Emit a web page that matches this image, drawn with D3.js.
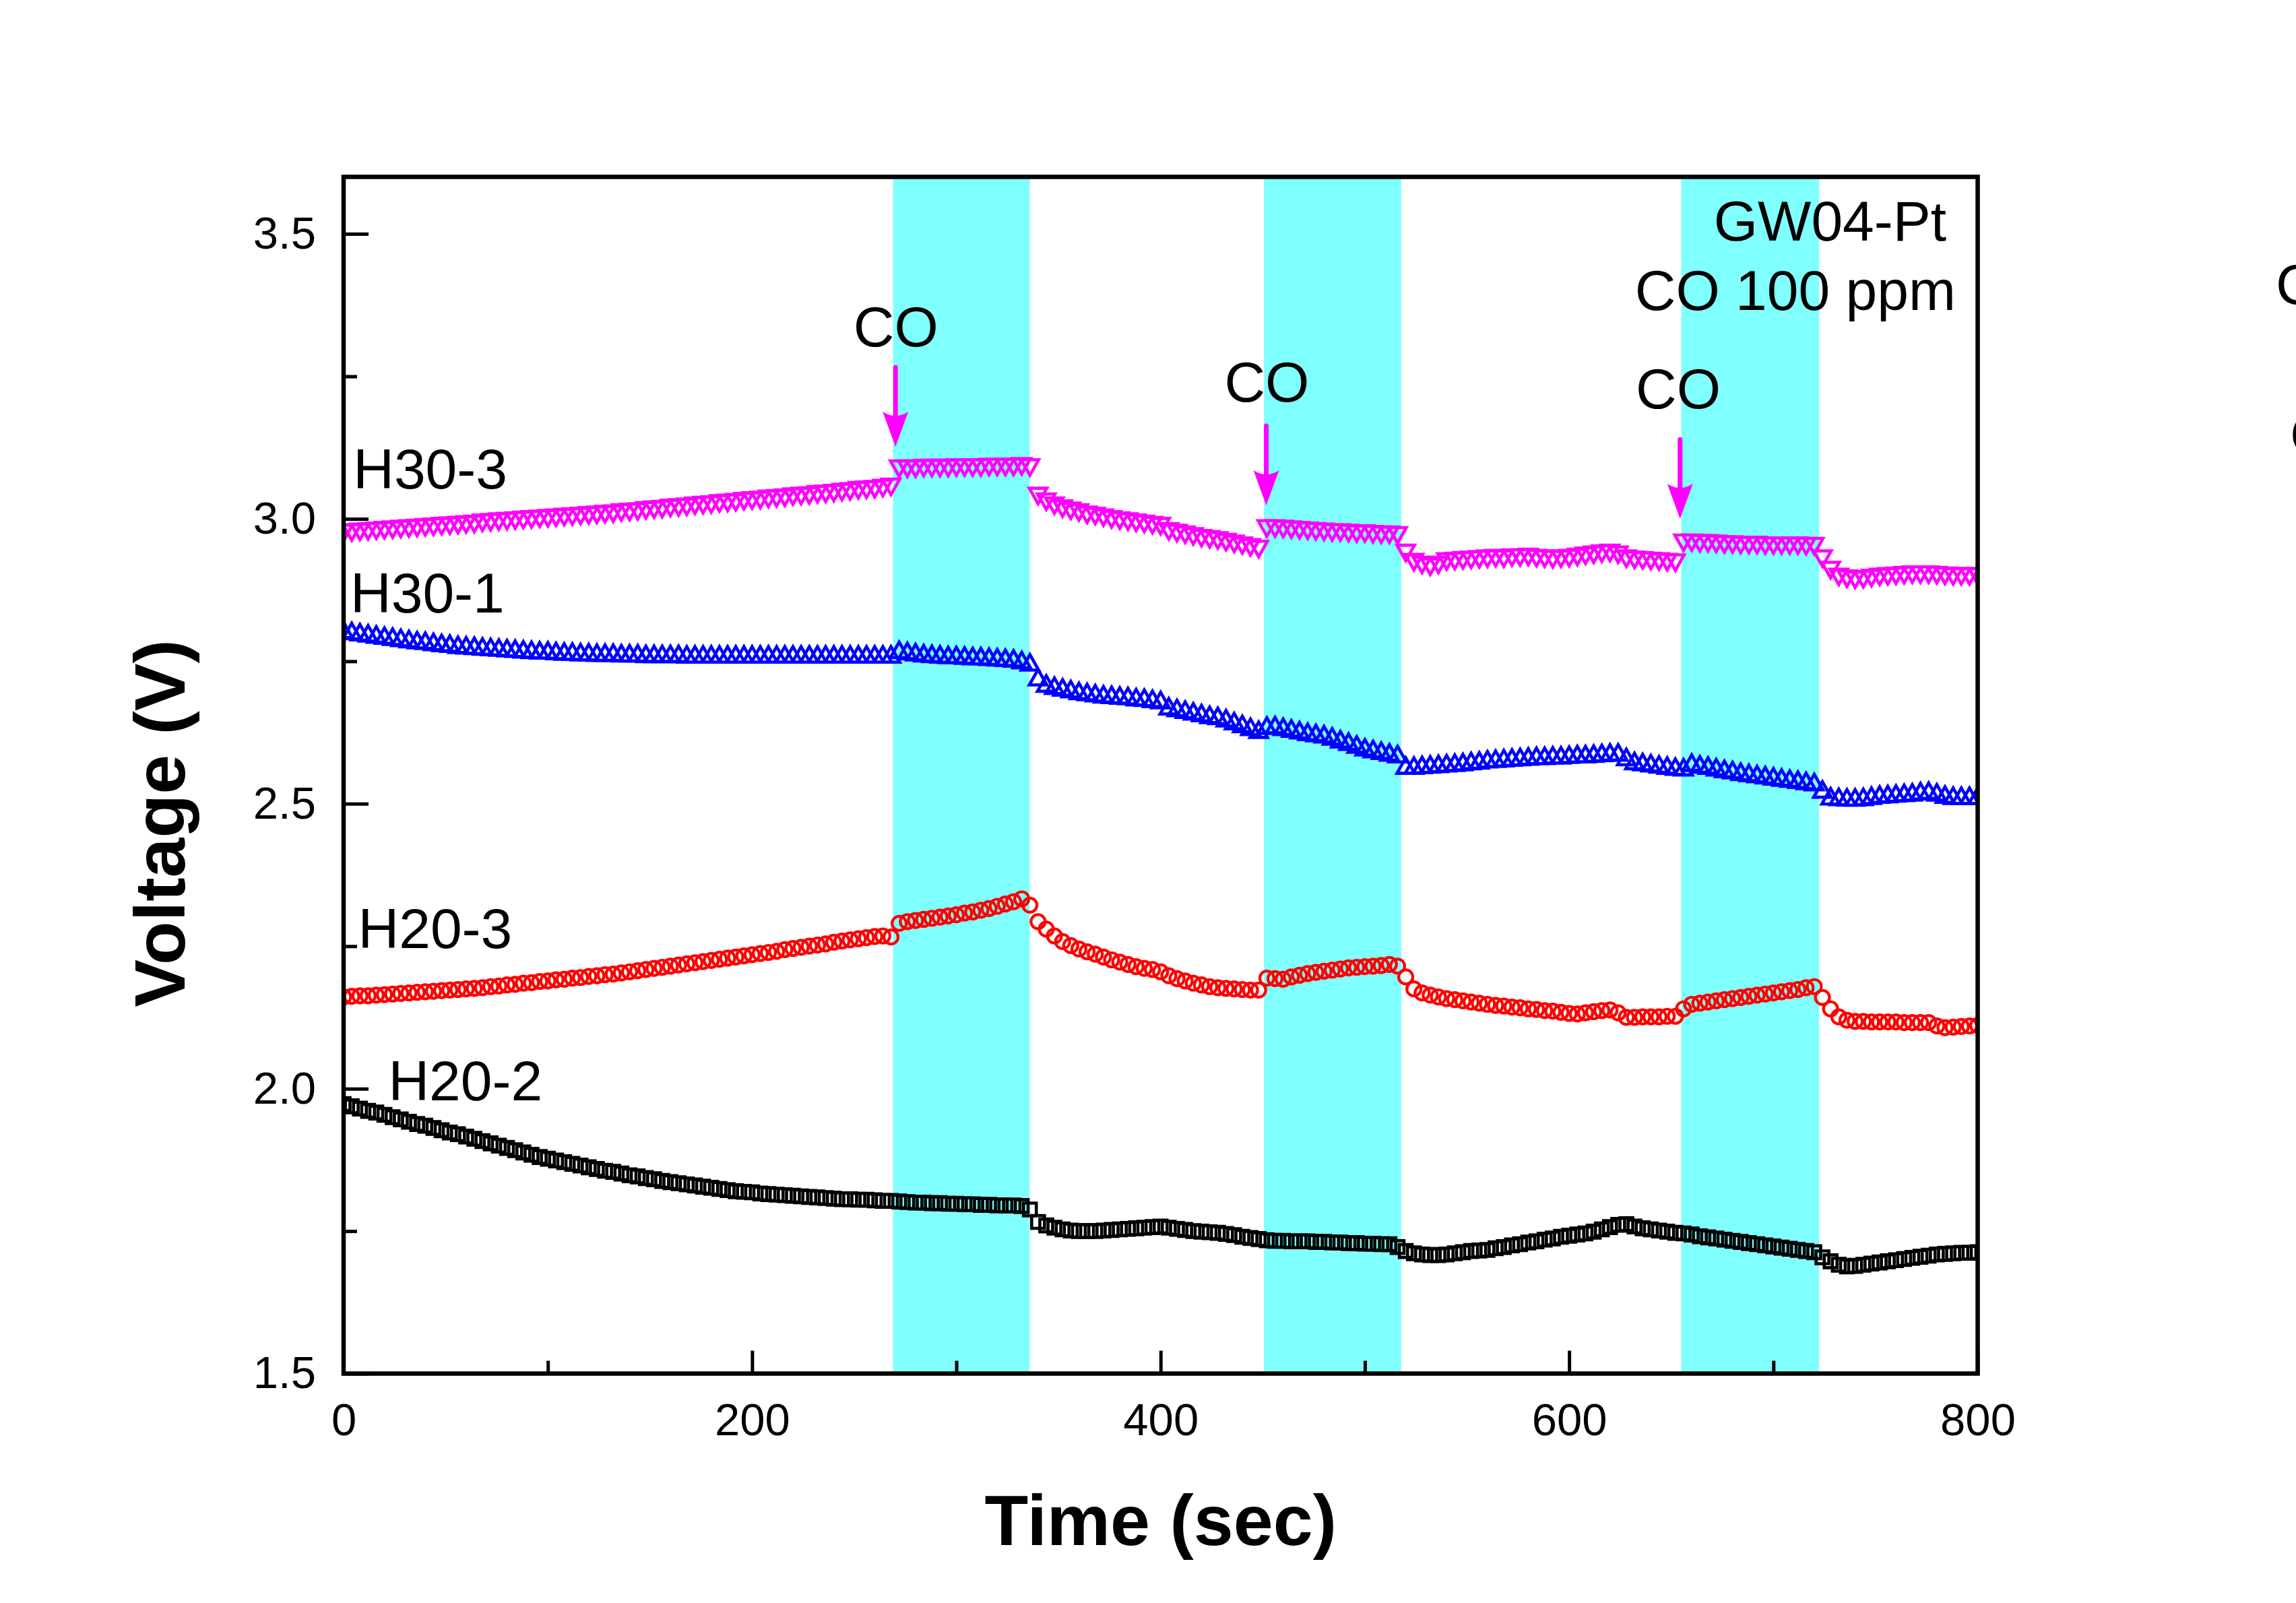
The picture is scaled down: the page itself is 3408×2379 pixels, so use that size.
<!DOCTYPE html>
<html><head><meta charset="utf-8">
<script src="https://cdn.jsdelivr.net/npm/d3@7"></script>
<style>html,body{margin:0;padding:0;background:#fff;} svg{display:block;}</style>
</head><body>
<svg id="c" width="3408" height="2379"></svg>
<script>
// ---------- DATA ----------
const times = [
0,4,8,12,16,20,24,28,32,36,40,44,48,52,56,60,64,68,72,76,80,84,88,92,96,
100,104,108,112,116,120,124,128,132,136,140,144,148,152,156,160,164,168,172,176,180,184,188,192,196,
200,204,208,212,216,220,224,228,232,236,240,244,248,252,256,260,264,268,272,276,280,284,288,292,296,
300,304,308,312,316,320,324,328,332,336,340,344,348,352,356,360,364,368,372,376,380,384,388,392,396,
400,404,408,412,416,420,424,428,432,436,440,444,448,452,456,460,464,468,472,476,480,484,488,492,496,
500,504,508,512,516,520,524,528,532,536,540,544,548,552,556,560,564,568,572,576,580,584,588,592,596,
600,604,608,612,616,620,624,628,632,636,640,644,648,652,656,660,664,668,672,676,680,684,688,692,696,
700,704,708,712,716,720,724,728,732,736,740,744,748,752,756,760,764,768,772,776,780,784,788,792,796,
800];

const seriesNames = ["H30-3", "H30-1", "H20-3", "H20-2"];

const vH30_3 = [
2.975,2.976,2.977,2.978,2.979,2.980,2.981,2.982,2.983,2.984,2.985,2.986,2.987,2.988,2.989,2.990,2.991,2.993,2.994,2.995,2.996,2.997,2.998,2.999,3.000,
3.001,3.002,3.003,3.004,3.005,3.006,3.007,3.008,3.009,3.011,3.012,3.013,3.015,3.016,3.017,3.019,3.020,3.021,3.023,3.024,3.025,3.027,3.028,3.029,3.031,
3.032,3.033,3.035,3.036,3.037,3.039,3.040,3.041,3.043,3.044,3.045,3.047,3.048,3.050,3.051,3.052,3.054,3.056,3.088,3.088,3.088,3.089,3.089,3.089,3.089,
3.090,3.090,3.090,3.090,3.091,3.091,3.091,3.091,3.092,3.090,3.040,3.030,3.023,3.018,3.014,3.011,3.007,3.005,3.002,2.999,2.997,2.995,2.993,2.991,2.989,
2.987,2.978,2.975,2.972,2.969,2.966,2.964,2.962,2.959,2.956,2.953,2.950,2.947,2.983,2.983,2.982,2.981,2.980,2.979,2.978,2.977,2.976,2.976,2.975,2.974,
2.974,2.973,2.972,2.972,2.971,2.940,2.924,2.919,2.916,2.919,2.925,2.926,2.927,2.928,2.929,2.930,2.931,2.930,2.932,2.932,2.933,2.931,2.930,2.929,2.930,
2.931,2.933,2.935,2.937,2.939,2.940,2.937,2.930,2.928,2.927,2.926,2.925,2.924,2.923,2.958,2.958,2.957,2.957,2.956,2.955,2.955,2.954,2.954,2.954,2.953,
2.953,2.953,2.953,2.953,2.952,2.952,2.930,2.910,2.898,2.895,2.893,2.894,2.896,2.898,2.899,2.900,2.901,2.902,2.902,2.902,2.901,2.900,2.899,2.899,2.899,
2.899];

const vH30_1 = [
2.805,2.803,2.801,2.799,2.797,2.795,2.793,2.791,2.789,2.787,2.786,2.784,2.782,2.781,2.779,2.778,2.777,2.776,2.775,2.774,2.773,2.772,2.771,2.770,2.769,
2.769,2.768,2.767,2.767,2.766,2.766,2.765,2.765,2.765,2.764,2.764,2.764,2.763,2.763,2.763,2.763,2.763,2.762,2.762,2.762,2.762,2.762,2.762,2.762,2.762,
2.762,2.762,2.762,2.762,2.762,2.762,2.762,2.762,2.762,2.762,2.762,2.762,2.762,2.762,2.762,2.762,2.762,2.762,2.770,2.768,2.766,2.764,2.763,2.762,2.761,
2.761,2.760,2.759,2.759,2.758,2.757,2.756,2.755,2.752,2.748,2.722,2.711,2.707,2.704,2.701,2.698,2.696,2.694,2.692,2.691,2.690,2.689,2.687,2.686,2.684,
2.682,2.671,2.668,2.665,2.662,2.659,2.656,2.654,2.650,2.645,2.640,2.635,2.630,2.637,2.638,2.635,2.632,2.629,2.626,2.624,2.622,2.618,2.613,2.609,2.604,
2.599,2.596,2.593,2.590,2.587,2.567,2.567,2.568,2.569,2.570,2.571,2.572,2.573,2.575,2.576,2.578,2.579,2.580,2.581,2.582,2.583,2.584,2.584,2.585,2.585,
2.586,2.587,2.587,2.588,2.589,2.590,2.590,2.582,2.575,2.573,2.571,2.569,2.567,2.565,2.564,2.572,2.569,2.567,2.564,2.561,2.559,2.556,2.554,2.552,2.550,
2.548,2.546,2.544,2.542,2.540,2.538,2.525,2.513,2.512,2.511,2.511,2.512,2.514,2.516,2.517,2.518,2.519,2.520,2.522,2.523,2.520,2.516,2.514,2.514,2.514,
2.514];

const vH20_3 = [
2.161,2.162,2.163,2.163,2.164,2.165,2.166,2.167,2.168,2.169,2.170,2.171,2.172,2.173,2.174,2.175,2.176,2.177,2.179,2.180,2.182,2.183,2.185,2.186,2.188,
2.189,2.191,2.192,2.194,2.195,2.197,2.198,2.200,2.201,2.203,2.205,2.207,2.209,2.211,2.213,2.215,2.217,2.219,2.221,2.223,2.225,2.227,2.229,2.231,2.233,
2.235,2.237,2.239,2.241,2.244,2.246,2.248,2.250,2.252,2.254,2.257,2.259,2.261,2.263,2.265,2.267,2.268,2.266,2.290,2.293,2.295,2.297,2.299,2.301,2.303,
2.305,2.308,2.310,2.313,2.316,2.320,2.324,2.328,2.333,2.322,2.293,2.280,2.268,2.258,2.251,2.245,2.240,2.236,2.231,2.226,2.222,2.218,2.214,2.211,2.209,
2.205,2.198,2.193,2.189,2.185,2.182,2.179,2.177,2.176,2.175,2.174,2.173,2.173,2.194,2.193,2.192,2.196,2.199,2.202,2.204,2.206,2.208,2.210,2.212,2.213,
2.214,2.215,2.216,2.218,2.215,2.196,2.175,2.168,2.164,2.161,2.158,2.156,2.154,2.152,2.150,2.148,2.146,2.145,2.143,2.142,2.140,2.139,2.137,2.136,2.134,
2.132,2.131,2.133,2.135,2.137,2.138,2.133,2.125,2.125,2.126,2.126,2.126,2.127,2.127,2.140,2.148,2.150,2.152,2.154,2.156,2.158,2.160,2.162,2.164,2.166,
2.168,2.170,2.172,2.174,2.177,2.179,2.160,2.140,2.126,2.120,2.118,2.118,2.117,2.117,2.117,2.117,2.116,2.116,2.116,2.116,2.110,2.107,2.108,2.109,2.110,
2.111];

const vH20_2 = [
1.973,1.969,1.965,1.961,1.958,1.954,1.950,1.946,1.942,1.938,1.935,1.931,1.927,1.923,1.920,1.916,1.912,1.908,1.904,1.900,1.896,1.892,1.888,1.884,1.880,
1.877,1.874,1.871,1.868,1.865,1.862,1.859,1.856,1.854,1.851,1.848,1.846,1.843,1.841,1.838,1.836,1.834,1.832,1.830,1.828,1.826,1.824,1.822,1.820,1.819,
1.818,1.816,1.815,1.814,1.813,1.812,1.811,1.810,1.809,1.808,1.807,1.806,1.806,1.805,1.805,1.804,1.803,1.803,1.802,1.801,1.800,1.800,1.799,1.799,1.798,
1.798,1.797,1.797,1.796,1.796,1.795,1.795,1.795,1.794,1.788,1.766,1.760,1.756,1.753,1.751,1.750,1.750,1.750,1.751,1.752,1.753,1.754,1.755,1.756,1.757,
1.758,1.756,1.754,1.752,1.750,1.749,1.748,1.747,1.745,1.743,1.740,1.738,1.736,1.734,1.733,1.733,1.732,1.732,1.732,1.731,1.731,1.730,1.730,1.729,1.729,
1.728,1.728,1.727,1.727,1.722,1.715,1.711,1.709,1.708,1.708,1.709,1.711,1.713,1.715,1.716,1.717,1.720,1.722,1.725,1.727,1.730,1.732,1.735,1.737,1.740,
1.742,1.744,1.746,1.749,1.753,1.757,1.761,1.762,1.758,1.755,1.753,1.751,1.749,1.747,1.746,1.744,1.741,1.739,1.737,1.735,1.733,1.731,1.729,1.727,1.725,
1.723,1.721,1.719,1.717,1.715,1.713,1.704,1.697,1.691,1.688,1.689,1.691,1.693,1.695,1.697,1.699,1.701,1.703,1.705,1.707,1.709,1.710,1.711,1.712,1.712,
1.713];

// CO exposure windows (sec)
const coStart = [269.0, 450.6, 654.9];
const coEnd   = [335.9, 517.8, 722.4];

const xTickValues = [0, 200, 400, 600, 800];
const xMinorTicks = [100, 300, 500, 700];
const yTickValues = [1.5, 2.0, 2.5, 3.0, 3.5];
const yMinorTicks = [1.75, 2.25, 2.75, 3.25];

const xTitle = "Time (sec)";
const yTitle = "Voltage (V)";
const sampleLabel = "GW04-Pt";
const gasLabel = "CO 100 ppm";
const coLabel = "CO";

// ---------- LAYOUT / STYLE ----------
const W = 3408, H = 2379;
const plot = {left: 510, right: 2935.5, top: 262.5, bottom: 2038.5};
const FONT = "'Liberation Sans', Arial, Helvetica, sans-serif";

const x = d3.scaleLinear().domain([0, 800]).range([plot.left, plot.right]);
const y = d3.scaleLinear().domain([1.5, 3.6]).range([plot.bottom, plot.top]);

const svg = d3.select("#c");
svg.append("rect").attr("width", W).attr("height", H).attr("fill", "#fff");

svg.append("defs").append("clipPath").attr("id", "clip")
  .append("rect").attr("x", plot.left).attr("y", plot.top)
  .attr("width", plot.right - plot.left).attr("height", plot.bottom - plot.top);

const plotG = svg.append("g").attr("clip-path", "url(#clip)");

// CO bands
plotG.selectAll("rect.band").data(coStart.map((s, i) => [s, coEnd[i]])).join("rect")
  .attr("class", "band")
  .attr("x", d => x(d[0])).attr("width", d => x(d[1]) - x(d[0]))
  .attr("y", y(3.6)).attr("height", y(1.5) - y(3.6))
  .attr("fill", "#80ffff");

// series
const markerPaths = {
  triDown: "M-13,-11.5L13,-11.5L0,11.5Z",
  triUp: "M-13,11.5L13,11.5L0,-11.5Z",
  circle: "M10.5,0A10.5,10.5 0 1,1 -10.5,0A10.5,10.5 0 1,1 10.5,0Z",
  square: "M-9.5,-9.5H9.5V9.5H-9.5Z"
};
const seriesStyle = [
  {vals: vH20_2, color: "#000000", marker: "square", sw: 4.6},
  {vals: vH20_3, color: "#ff0000", marker: "circle", sw: 4.2},
  {vals: vH30_1, color: "#0000ff", marker: "triUp", sw: 4.6},
  {vals: vH30_3, color: "#ff00ff", marker: "triDown", sw: 4.6}
];
seriesStyle.forEach(s => {
  plotG.append("g").selectAll("path").data(times.map((t, i) => [t, s.vals[i]])).join("path")
    .attr("transform", d => `translate(${x(d[0])},${y(d[1])})`)
    .attr("d", markerPaths[s.marker])
    .attr("fill", "none")
    .attr("stroke", s.color)
    .attr("stroke-width", s.sw);
});

// axes
const gx = svg.append("g").attr("transform", `translate(0,${plot.bottom})`)
  .call(d3.axisBottom(x).tickValues(xTickValues).tickSize(-34).tickPadding(44).tickFormat(d3.format("d")));
const gxm = svg.append("g").attr("transform", `translate(0,${plot.bottom})`)
  .call(d3.axisBottom(x).tickValues(xMinorTicks).tickSize(-19).tickFormat(""));
const gy = svg.append("g").attr("transform", `translate(${plot.left},0)`)
  .call(d3.axisLeft(y).tickValues(yTickValues).tickSize(-37).tickPadding(41).tickFormat(d3.format(".1f")));
const gym = svg.append("g").attr("transform", `translate(${plot.left},0)`)
  .call(d3.axisLeft(y).tickValues(yMinorTicks).tickSize(-20).tickFormat(""));
[gx, gxm, gy, gym].forEach(g => {
  g.select(".domain").remove();
  g.selectAll(".tick line").attr("stroke", "#000").attr("stroke-width", 5);
  g.selectAll(".tick text").attr("font-family", FONT).attr("font-size", 67).attr("fill", "#000");
});

// frame
svg.append("rect").attr("x", plot.left).attr("y", plot.top)
  .attr("width", plot.right - plot.left).attr("height", plot.bottom - plot.top)
  .attr("fill", "none").attr("stroke", "#000").attr("stroke-width", 6.5);

// titles
svg.append("text").attr("x", (plot.left + plot.right) / 2).attr("y", 2293)
  .attr("text-anchor", "middle").attr("font-family", FONT).attr("font-weight", "bold")
  .attr("font-size", 106).text(xTitle);
svg.append("text").attr("transform", "translate(274,1222) rotate(-90)")
  .attr("text-anchor", "middle").attr("font-family", FONT).attr("font-weight", "bold")
  .attr("font-size", 106).text(yTitle);

// annotations (data coordinates)
const labelAnchors = [
  {text: seriesNames[0], t: 4.7, v: 3.053},
  {text: seriesNames[1], t: 3.3, v: 2.835},
  {text: seriesNames[2], t: 7.1, v: 2.2465},
  {text: seriesNames[3], t: 21.9, v: 1.980},
  {text: sampleLabel, t: 670.8, v: 3.4885},
  {text: gasLabel, t: 632.2, v: 3.367}
];
svg.append("g").selectAll("text").data(labelAnchors).join("text")
  .attr("x", d => x(d.t)).attr("y", d => y(d.v))
  .attr("font-family", FONT).attr("font-size", 84).attr("fill", "#000").text(d => d.text);

const coAnchors = [
  {t: 270.4, v: 3.303, at: 270.2, top: 3.2656, tip: 3.1263},
  {t: 452.0, v: 3.2055, at: 451.7, top: 3.163, tip: 3.0236},
  {t: 653.4, v: 3.194, at: 654.3, top: 3.139, tip: 3.000}
];
svg.append("g").selectAll("text").data(coAnchors).join("text")
  .attr("x", d => x(d.t)).attr("y", d => y(d.v)).attr("text-anchor", "middle")
  .attr("font-family", FONT).attr("font-size", 84).attr("fill", "#000").text(coLabel);

const arrows = svg.append("g").attr("fill", "#ff00ff").attr("stroke", "#ff00ff");
coAnchors.forEach(d => {
  const ax = x(d.at), y0 = y(d.top), y1 = y(d.tip);
  arrows.append("line").attr("x1", ax).attr("x2", ax).attr("y1", y0).attr("y2", y1 - 30)
    .attr("stroke-width", 7).attr("stroke-linecap", "round");
  arrows.append("path").attr("stroke", "none")
    .attr("d", `M${ax},${y1} L${ax - 19},${y1 - 52} Q${ax},${y1 - 40} ${ax + 19},${y1 - 52} Z`);
});

// partially visible text cut off at the right edge (as in the source image)
svg.append("text").attr("x", 3378).attr("y", 451).attr("font-family", FONT).attr("font-size", 84).text("C");
svg.append("text").attr("x", 3399).attr("y", 674).attr("font-family", FONT).attr("font-size", 84).text("C");
</script>
</body></html>
